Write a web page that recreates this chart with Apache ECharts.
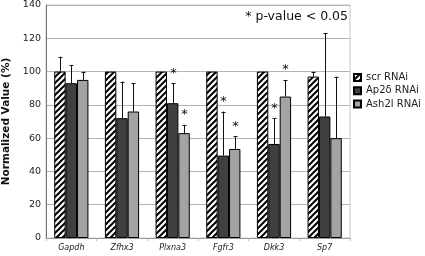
<!DOCTYPE html>
<html>
<head>
<meta charset="utf-8">
<script src="https://cdn.jsdelivr.net/npm/echarts@6/dist/echarts.min.js"></script>
<style>
  html, body { margin: 0; padding: 0; background: #fff; }
  #chart { width: 425px; height: 256px; }
</style>
</head>
<body>
<div id="chart"></div>
<script>
// genes on the x axis
var categories = ['Gapdh', 'Zfhx3', 'Plxna3', 'Fgfr3', 'Dkk3', 'Sp7'];
var seriesNames = ['scr RNAi', 'Ap2\u03b4 RNAi', 'Ash2l RNAi'];

// mean normalized values (%)
var scrValues = [100, 100, 100, 100, 100, 97];
var ap2Values = [93, 72, 81, 49.5, 56.5, 73];
var ash2lValues = [95, 76, 63, 53.5, 85, 60];

// upper error bar sizes
var scrErr = [9, 0, 0, 0, 0, 3];
var ap2Err = [11, 22, 12, 26.5, 15.5, 50];
var ash2lErr = [5, 17, 5, 7.5, 10, 37];

// p < 0.05 markers (1 = star)
var scrSig = [0, 0, 0, 0, 0, 0];
var ap2Sig = [0, 0, 1, 1, 1, 0];
var ash2lSig = [0, 0, 1, 1, 1, 0];

var yTicks = { min: 0, max: 140, interval: 20 };

var BAR_FRAC = 0.225;

// striped fill for scr bars
function stripePattern() {
    var c = document.createElement('canvas');
    c.width = 6;
    c.height = 6;
    var ctx = c.getContext('2d');
    ctx.fillStyle = '#fff';
    ctx.fillRect(0, 0, 6, 6);
    ctx.strokeStyle = '#000';
    ctx.lineWidth = 2;
    ctx.beginPath();
    ctx.moveTo(-1, 7); ctx.lineTo(7, -1);
    ctx.moveTo(-4, 4); ctx.lineTo(4, -4);
    ctx.moveTo(2, 10); ctx.lineTo(10, 2);
    ctx.stroke();
    return c;
}

function errorSeries(k, values, errs, sigs) {
    var data = values.map(function (v, i) {
        return [i, v, v + errs[i], sigs[i]];
    });
    return {
        type: 'custom',
        name: 'err' + k,
        z: 5,
        silent: true,
        data: data,
        encode: { x: 0, y: [1, 2] },
        renderItem: function (params, api) {
            var i = api.value(0);
            var bw = api.size([1, 0])[0] * BAR_FRAC;
            var base = api.coord([i, api.value(1)]);
            var top = api.coord([i, api.value(2)]);
            var x = Math.round(base[0] + (k - 1) * bw) + 0.5;
            var children = [];
            if (api.value(2) > api.value(1)) {
                children.push({
                    type: 'line',
                    shape: { x1: x, y1: base[1], x2: x, y2: top[1] },
                    style: { stroke: '#111', lineWidth: 1 }
                });
                children.push({
                    type: 'line',
                    shape: { x1: x - 2, y1: Math.round(top[1]) + 0.5, x2: x + 2, y2: Math.round(top[1]) + 0.5 },
                    style: { stroke: '#111', lineWidth: 1 }
                });
            }
            if (api.value(3)) {
                children.push({
                    type: 'text',
                    x: x,
                    y: top[1] - 10,
                    style: {
                        text: '*',
                        fontSize: 13,
                        fontFamily: 'DejaVu Sans',
                        fill: '#111',
                        align: 'center',
                        verticalAlign: 'middle'
                    }
                });
            }
            return { type: 'group', children: children };
        }
    };
}

var chart = echarts.init(document.getElementById('chart'));

var barStyle = { borderColor: '#000', borderWidth: 1 };

chart.setOption({
    animation: false,
    backgroundColor: '#fff',
    grid: {
        left: 46, right: 75, top: 5, bottom: 18,
        containLabel: false,
        outerBoundsMode: 'none',
        show: true,
        borderColor: '#c8c8c8',
        borderWidth: 1
    },
    legend: {
        orient: 'vertical',
        left: 353,
        top: 72,
        padding: 0,
        itemWidth: 7,
        itemHeight: 7,
        itemGap: 2.3,
        icon: 'rect',
        data: seriesNames,
        textStyle: {
            fontFamily: 'DejaVu Sans',
            fontSize: 10,
            lineHeight: 11,
            color: '#222'
        }
    },
    graphic: [{
        type: 'text',
        right: 77,
        top: 10,
        style: {
            text: '* p-value < 0.05',
            fontFamily: 'DejaVu Sans',
            fontSize: 12.5,
            fill: '#111'
        }
    }],
    xAxis: {
        type: 'category',
        data: categories,
        axisLine: { lineStyle: { color: '#999' } },
        axisTick: { show: true, length: 3, lineStyle: { color: '#bbb' } },
        axisLabel: {
            fontFamily: 'DejaVu Sans',
            fontStyle: 'italic',
            fontSize: 8,
            color: '#222',
            margin: 6
        }
    },
    yAxis: {
        type: 'value',
        min: yTicks.min,
        max: yTicks.max,
        interval: yTicks.interval,
        name: 'Normalized Value (%)',
        nameLocation: 'middle',
        nameGap: 32,
        nameTextStyle: {
            fontFamily: 'DejaVu Sans',
            fontWeight: 'bold',
            fontSize: 10.5,
            color: '#111'
        },
        axisLine: { show: true, lineStyle: { color: '#777' } },
        axisTick: { show: false },
        splitLine: { lineStyle: { color: '#b4b4b4' } },
        axisLabel: {
            fontFamily: 'DejaVu Sans',
            fontSize: 9.5,
            color: '#222',
            margin: 5
        }
    },
    series: [
        {
            name: seriesNames[0], type: 'bar', data: scrValues,
            barWidth: (BAR_FRAC * 100) + '%', barGap: '0%',
            itemStyle: Object.assign({ color: { image: stripePattern(), repeat: 'repeat' } }, barStyle)
        },
        {
            name: seriesNames[1], type: 'bar', data: ap2Values,
            barWidth: (BAR_FRAC * 100) + '%', barGap: '0%',
            itemStyle: Object.assign({ color: '#404040' }, barStyle)
        },
        {
            name: seriesNames[2], type: 'bar', data: ash2lValues,
            barWidth: (BAR_FRAC * 100) + '%', barGap: '0%',
            itemStyle: Object.assign({ color: '#a3a3a3' }, barStyle)
        },
        errorSeries(0, scrValues, scrErr, scrSig),
        errorSeries(1, ap2Values, ap2Err, ap2Sig),
        errorSeries(2, ash2lValues, ash2lErr, ash2lSig)
    ]
});
</script>
</body>
</html>
